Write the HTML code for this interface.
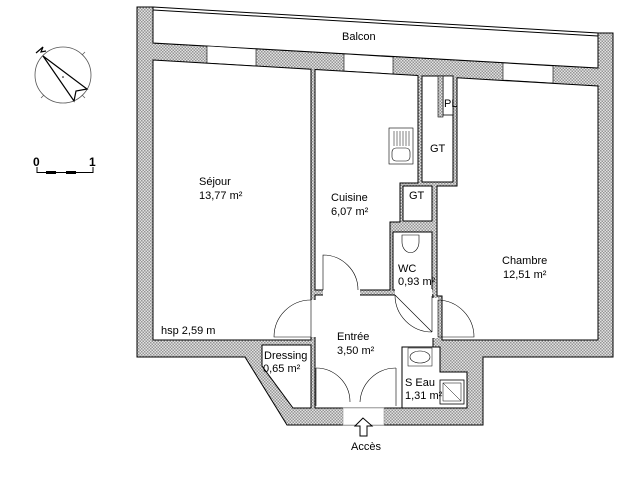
<!DOCTYPE html>
<html><head><meta charset="utf-8"><style>
html,body{margin:0;padding:0;background:#fff}
svg{display:block}
text{font-family:"Liberation Sans",sans-serif;font-size:11px;fill:#000}
</style></head><body>
<svg width="640" height="480" viewBox="0 0 640 480" xmlns="http://www.w3.org/2000/svg">
<defs>
<pattern id="h" width="3" height="3" patternUnits="userSpaceOnUse">
<rect width="3" height="3" fill="#e2e2e2"/>
<rect width="1.5" height="1.5" fill="#959595"/><rect x="1.5" y="1.5" width="1.5" height="1.5" fill="#959595"/>
</pattern>
</defs>
<polygon points="137,7 153,7 153,43 598,68 598,33 613,33 613,357 483,357 483,425 287,425 245,357 137,357" fill="url(#h)" stroke="#000" stroke-width="1"/>
<polygon points="153,7 598,33 598,68 153,43" fill="#fff" stroke="#000" stroke-width="1"/>
<line x1="153" y1="10" x2="598" y2="36" stroke="#000" stroke-width="1"/>
<g fill="#fff" stroke="#000" stroke-width="0.6">
<polygon points="207,46 256,49 256,66 207,63"/>
<polygon points="344,54 393,57 393,74 344,71"/>
<polygon points="503,63 553,66 553,83 503,80"/>
</g>
<g fill="#fff" stroke="#000" stroke-width="1">
<polygon points="153,60 311,69.2 311,340 153,340"/>
<polygon points="315,69.5 418,75.5 418,183 400,183 400,222 390,222 390,290 315,290"/>
<polygon points="457,77.8 598,86 598,340 442,340 442,296 437,296 437,186 457,186"/>
<rect x="315" y="295" width="118" height="113"/>
<rect x="422" y="76" width="31" height="106"/>
<rect x="403" y="186" width="29" height="35"/>
<rect x="393" y="232" width="39" height="58"/>
<polygon points="262,345 311,345 311,408 293,408 262,366"/>
<polygon points="402,347 440,347 440,372 467,372 467,408 402,408"/>
</g>
<rect x="443" y="76" width="10" height="39" fill="#fff" stroke="#000" stroke-width="0.8"/>
<rect x="438" y="76" width="5" height="41" fill="url(#h)" stroke="#000" stroke-width="0.6"/>
<rect x="343" y="408" width="41" height="17" fill="#fff" stroke="#999" stroke-width="0.6"/>
<g fill="#fff">
<rect x="310" y="300" width="6" height="37"/>
<rect x="323" y="288" width="37" height="8"/>
<rect x="395" y="289" width="37" height="7"/>
<rect x="432" y="298" width="6" height="40"/>
</g>
<g fill="none" stroke="#000" stroke-width="0.6">
<path d="M311,337 L274,337 A37,37 0 0 1 311,300"/>
<line x1="311" y1="300" x2="311" y2="337"/>
<path d="M323,290 L323,255 A35,35 0 0 1 358,290"/>
<path d="M395,295 L432,332 M395,295 A37,37 0 0 0 432,332"/>
<line x1="432" y1="296" x2="432" y2="332"/>
<path d="M438,300 A37,37 0 0 1 474,337 L438,337 Z"/>
<path d="M316,368 A34,34 0 0 1 350,402"/>
<line x1="316" y1="368" x2="316" y2="406"/>
<path d="M360,402 A36,36 0 0 1 396,368"/>
<line x1="396" y1="368" x2="396" y2="406"/>
</g>
<rect x="389" y="128" width="24" height="36" fill="#fff" stroke="#000" stroke-width="0.6"/>
<g stroke="#000" stroke-width="0.5">
<line x1="394" y1="131" x2="394" y2="146"/><line x1="397" y1="131" x2="397" y2="146"/><line x1="400" y1="131" x2="400" y2="146"/><line x1="403" y1="131" x2="403" y2="146"/><line x1="406" y1="131" x2="406" y2="146"/><line x1="409" y1="131" x2="409" y2="146"/>
</g>
<rect x="392" y="148" width="18" height="13" rx="4" fill="none" stroke="#000" stroke-width="0.6"/>
<path d="M402,235 L419,235 L419,242 A8,10 0 0 1 402,242 Z" fill="none" stroke="#000" stroke-width="0.6"/>
<rect x="408" y="348" width="24" height="18" fill="none" stroke="#000" stroke-width="0.5"/>
<ellipse cx="420" cy="357" rx="10" ry="6" fill="none" stroke="#000" stroke-width="0.6"/>
<rect x="440" y="380" width="24" height="24" fill="none" stroke="#000" stroke-width="0.8"/>
<rect x="443" y="383" width="18" height="18" fill="none" stroke="#000" stroke-width="0.5"/>
<line x1="443" y1="383" x2="461" y2="401" stroke="#000" stroke-width="0.5"/>
<path d="M363,418 L355,426 L360,426 L360,436 L367,436 L367,426 L372,426 Z" fill="#fff" stroke="#000" stroke-width="1"/>
<circle cx="63" cy="75" r="28" fill="none" stroke="#555" stroke-width="0.8"/>
<g stroke="#555" stroke-width="0.7">
<line x1="82" y1="55" x2="85" y2="52"/><line x1="82" y1="95" x2="85" y2="98"/><line x1="44" y1="95" x2="41" y2="98"/>
</g>
<path d="M43,56 L87,89 L76,91 L74,101 Z" fill="#fff" stroke="#000" stroke-width="1.2"/>
<path d="M36,53 L43,47 L41,52 L46,51" fill="none" stroke="#000" stroke-width="1.2"/>
<circle cx="63" cy="77" r="0.8" fill="#000"/>
<text x="33" y="166" style="font-weight:bold;font-size:12px">0</text>
<text x="89" y="166" style="font-weight:bold;font-size:12px">1</text>
<line x1="37" y1="167" x2="37" y2="173" stroke="#000"/>
<line x1="93" y1="167" x2="93" y2="173" stroke="#000"/>
<line x1="37" y1="172.5" x2="93" y2="172.5" stroke="#000" stroke-width="1"/>
<line x1="46" y1="172.5" x2="56" y2="172.5" stroke="#000" stroke-width="3"/>
<line x1="66" y1="172.5" x2="76" y2="172.5" stroke="#000" stroke-width="3"/>
<text x="342" y="40">Balcon</text>
<text x="199" y="185">Séjour</text>
<text x="199" y="199">13,77 m²</text>
<text x="331" y="201">Cuisine</text>
<text x="331" y="215">6,07 m²</text>
<text x="430" y="152">GT</text>
<text x="409" y="199">GT</text>
<text x="444" y="107">PL</text>
<text x="398" y="272">WC</text>
<text x="398" y="285">0,93 m²</text>
<text x="502" y="264">Chambre</text>
<text x="503" y="278">12,51 m²</text>
<text x="161" y="334">hsp 2,59 m</text>
<text x="337" y="340">Entrée</text>
<text x="337" y="354">3,50 m²</text>
<text x="264" y="359">Dressing</text>
<text x="263" y="372">0,65 m²</text>
<text x="405" y="386">S Eau</text>
<text x="405" y="399">1,31 m²</text>
<text x="351" y="450">Accès</text>
</svg>
</body></html>
